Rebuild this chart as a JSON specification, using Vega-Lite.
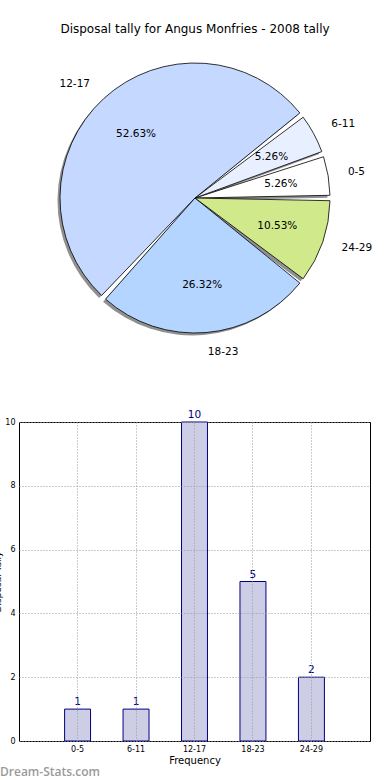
{
  "$schema": "https://vega.github.io/schema/vega-lite/v6.json",
  "padding": {"left": -8, "top": 23, "right": 0, "bottom": 0},
  "background": "white",
  "bounds": "flush",
  "spacing": 72,
  "config": {"view": {"stroke": null}, "font": "DejaVu Sans"},
  "datasets": {
    "tally": [
      {"range": "0-5", "k": 1, "count": 1, "pct": "5.26%"},
      {"range": "6-11", "k": 2, "count": 1, "pct": "5.26%"},
      {"range": "12-17", "k": 3, "count": 10, "pct": "52.63%"},
      {"range": "18-23", "k": 4, "count": 5, "pct": "26.32%"},
      {"range": "24-29", "k": 5, "count": 2, "pct": "10.53%"}
    ]
  },
  "vconcat": [
    {
      "width": 352,
      "height": 304,
      "title": {"text": "Disposal tally for Angus Monfries - 2008 tally", "fontSize": 12, "fontWeight": "normal", "font": "DejaVu Sans", "anchor": "middle", "offset": 10, "color": "#000"},
      "data": {"name": "tally"},
      "encoding": {
        "theta": {"field": "count", "type": "quantitative", "stack": true, "scale": {"range": [1.5708, -4.7124]}},
        "order": {"field": "k", "type": "quantitative"}
      },
      "layer": [
        {
          "mark": {"type": "arc", "outerRadius": 135, "padAngle": 0.04, "xOffset": -2.5, "yOffset": 2.5, "fill": "#909090", "stroke": null}
        },
        {
          "mark": {"type": "arc", "outerRadius": 135, "padAngle": 0.04, "stroke": "#000", "strokeWidth": 0.8},
          "encoding": {
            "color": {"field": "range", "type": "nominal", "legend": null,
              "scale": {"domain": ["0-5", "6-11", "12-17", "18-23", "24-29"], "range": ["#ffffff", "#e8f0ff", "#c5d8ff", "#b4d5ff", "#cfe98b"]}}
          }
        },
        {
          "mark": {"type": "text", "radius": 87, "fontSize": 10.5, "font": "DejaVu Sans", "color": "#000"},
          "encoding": {"text": {"field": "pct", "type": "nominal"}}
        },
        {
          "mark": {"type": "text", "radius": 155, "align": "left", "fontSize": 10.5, "font": "DejaVu Sans", "color": "#000"},
          "encoding": {"text": {"condition": {"test": "datum.k != 3", "field": "range", "type": "nominal"}, "value": ""}}
        },
        {
          "mark": {"type": "text", "radius": 155, "align": "right", "fontSize": 10.5, "font": "DejaVu Sans", "color": "#000"},
          "encoding": {"text": {"condition": {"test": "datum.k == 3", "field": "range", "type": "nominal"}, "value": ""}}
        }
      ]
    },
    {
      "width": 351,
      "height": 319,
      "view": {"stroke": "#000", "strokeWidth": 1},
      "title": {"text": "Dream-Stats.com", "orient": "bottom", "anchor": "start", "frame": "group", "dx": -19, "offset": 2, "fontSize": 12, "font": "Open Sans", "fontWeight": 600, "color": "#9a9a9a"},
      "data": {"name": "tally"},
      "encoding": {
        "x": {"field": "range", "type": "nominal", "sort": ["0-5", "6-11", "12-17", "18-23", "24-29"],
          "scale": {"paddingInner": 0.556, "paddingOuter": 0.78},
          "axis": {"title": "Frequency", "titleFontSize": 10, "titleFontWeight": "normal", "titleFont": "DejaVu Sans", "titlePadding": 2, "labelAngle": 0, "labelFontSize": 8, "labelFont": "DejaVu Sans", "labelColor": "#000", "ticks": false, "labelPadding": 4, "domain": false, "grid": true, "gridDash": [1, 2], "gridColor": "#999", "bandPosition": 0.5, "zindex": 1}},
        "y": {"field": "count", "type": "quantitative", "scale": {"domain": [0, 10], "nice": false},
          "axis": {"title": "Disposal Tally", "titleFontSize": 9, "titleFontWeight": "normal", "titleX": -17, "titleBaseline": "bottom", "values": [0, 2, 4, 6, 8, 10], "labelFontSize": 8, "labelFont": "DejaVu Sans", "labelColor": "#000", "ticks": false, "labelPadding": 4, "domain": false, "grid": true, "gridDash": [1, 2], "gridColor": "#999", "zindex": 1}}
      },
      "layer": [
        {"mark": {"type": "bar", "fill": "#cdcde6", "stroke": "#000080", "strokeWidth": 1}},
        {"mark": {"type": "text", "baseline": "bottom", "dy": -2, "fontSize": 10.5, "font": "DejaVu Sans", "color": "#000080"},
          "encoding": {"text": {"field": "count", "type": "quantitative"}}}
      ]
    }
  ]
}
